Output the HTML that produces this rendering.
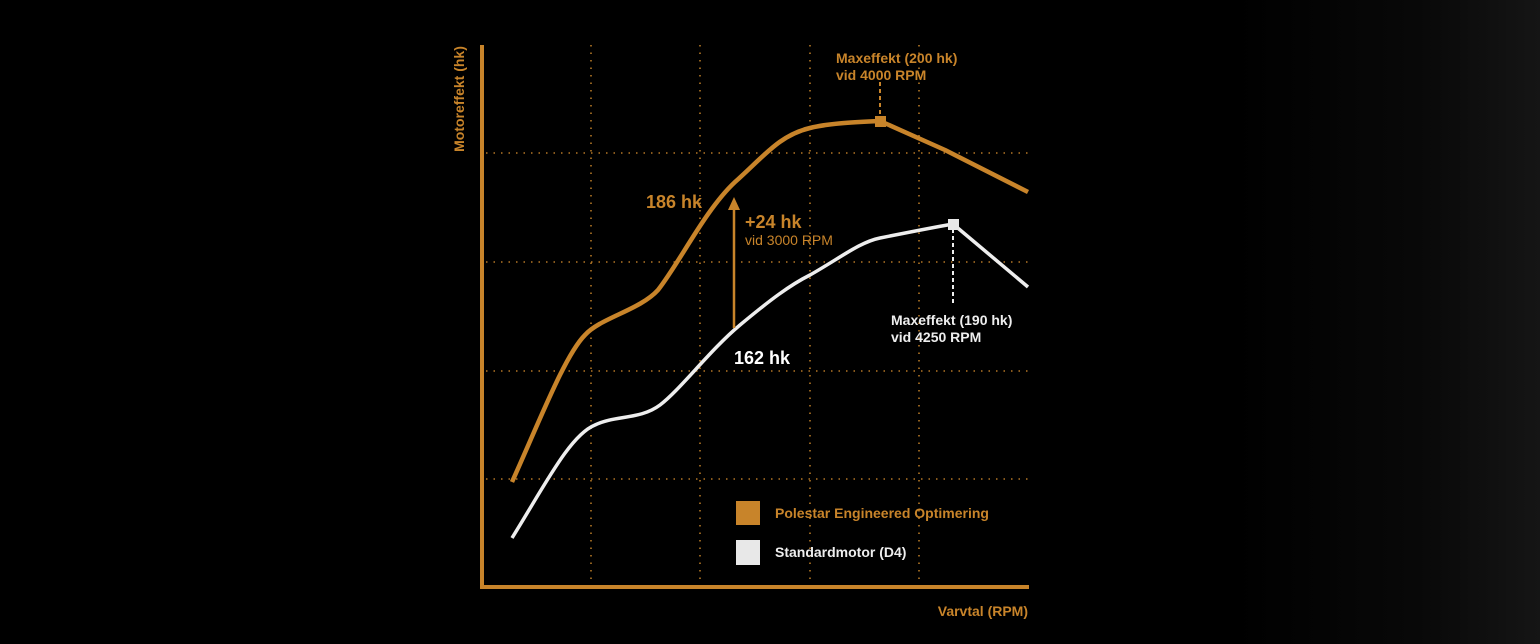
<!DOCTYPE html>
<html><head><meta charset="utf-8"><style>
html,body{margin:0;padding:0;background:#000;}
body{width:1540px;height:644px;overflow:hidden;background:linear-gradient(90deg,#000 0%,#000 80%,#080808 92%,#151515 100%);}
svg{display:block;font-family:"Liberation Sans",sans-serif;font-weight:bold;}
</style></head><body>
<svg width="1540" height="644" viewBox="0 0 1540 644">
<g stroke="#c8842a" stroke-width="1.6" stroke-dasharray="1.5 6" fill="none" opacity="0.9">
<line x1="486" y1="153" x2="1028" y2="153"/>
<line x1="486" y1="262" x2="1028" y2="262"/>
<line x1="486" y1="371" x2="1028" y2="371"/>
<line x1="486" y1="479" x2="1028" y2="479"/>
<line x1="591" y1="45" x2="591" y2="584"/>
<line x1="700" y1="45" x2="700" y2="584"/>
<line x1="810" y1="45" x2="810" y2="584"/>
<line x1="919" y1="45" x2="919" y2="584"/>
</g>
<line x1="482" y1="45" x2="482" y2="589" stroke="#c8842a" stroke-width="4"/>
<line x1="480" y1="587" x2="1029" y2="587" stroke="#c8842a" stroke-width="4"/>
<path d="M512,482 C540,420 565,355 585,335 C600,318 640,310 658,290 C680,262 705,210 735,182 C765,155 780,135 810,128 C830,123 860,122 880,121 L945,150 L1028,192" fill="none" stroke="#c8842a" stroke-width="4.5" stroke-linejoin="round"/>
<path d="M512,538 C545,485 570,435 595,425 C615,415 640,420 660,405 C680,390 710,350 740,325 C770,300 790,285 810,275 C840,258 860,242 880,238 C910,232 930,228 953,224 L1028,287" fill="none" stroke="#eee" stroke-width="3.5" stroke-linejoin="round"/>
<line x1="880" y1="82" x2="880" y2="116" stroke="#c8842a" stroke-width="2" stroke-dasharray="4 3"/>
<rect x="875" y="116" width="11" height="11" fill="#c8842a"/>
<line x1="953" y1="229" x2="953" y2="306" stroke="#eee" stroke-width="2" stroke-dasharray="4 3"/>
<rect x="948" y="219" width="11" height="11" fill="#e8e8e8"/>
<line x1="734" y1="328" x2="734" y2="208" stroke="#c8842a" stroke-width="2.5"/>
<polygon points="734,197 728,210 740,210" fill="#c8842a"/>
<text x="836" y="63" font-size="14" fill="#c8842a">Maxeffekt (200 hk)</text>
<text x="836" y="80" font-size="14" fill="#c8842a">vid 4000 RPM</text>
<text x="646" y="208" font-size="18" fill="#c8842a">186 hk</text>
<text x="745" y="228" font-size="18" fill="#c8842a">+24 hk</text>
<text x="745" y="245" font-size="14" fill="#c8842a" font-weight="normal">vid 3000 RPM</text>
<text x="891" y="325" font-size="14" fill="#eee">Maxeffekt (190 hk)</text>
<text x="891" y="342" font-size="14" fill="#eee">vid 4250 RPM</text>
<text x="734" y="364" font-size="18" fill="#fff">162 hk</text>
<rect x="736" y="501" width="24" height="24" fill="#c8842a"/>
<rect x="736" y="540" width="24" height="25" fill="#e8e8e8"/>
<text x="775" y="518" font-size="14" fill="#c8842a">Polestar Engineered Optimering</text>
<text x="775" y="557" font-size="14" fill="#eee">Standardmotor (D4)</text>
<text x="1028" y="616" font-size="14" fill="#c8842a" text-anchor="end">Varvtal (RPM)</text>
<text transform="translate(464,99) rotate(-90)" font-size="14" fill="#c8842a" text-anchor="middle">Motoreffekt (hk)</text>
</svg>
</body></html>
